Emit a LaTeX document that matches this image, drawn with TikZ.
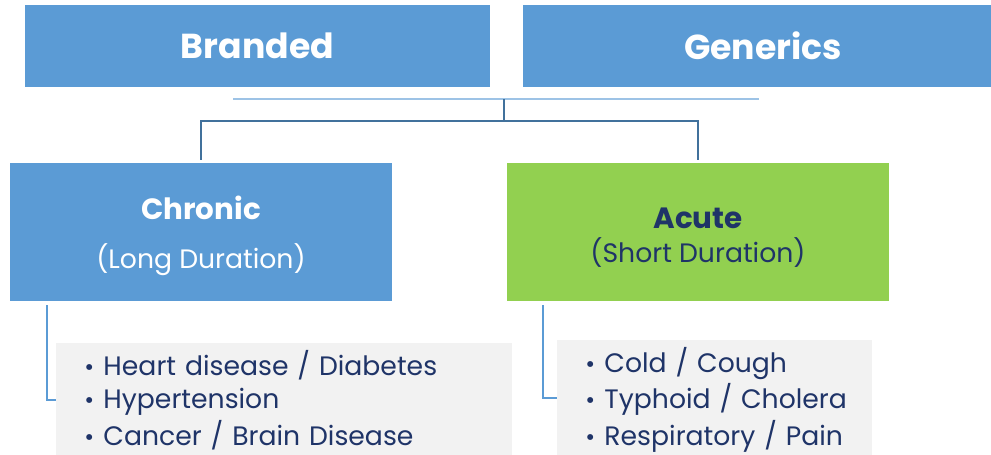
\documentclass[tikz,border=0pt]{standalone}
\usepackage{fontspec}
\setmainfont{Poppins}
\usetikzlibrary{positioning}
\definecolor{boxblue}{HTML}{5B9BD5}
\definecolor{boxgreen}{HTML}{92D050}
\definecolor{listgray}{HTML}{F2F2F2}
\definecolor{navy}{HTML}{1F3468}
\definecolor{barblue}{HTML}{9DC3E6}
\definecolor{forkblue}{HTML}{41719C}
\newcommand{\bul}{\strut\hspace*{8pt}{\fontsize{18}{18}\selectfont\textbullet}\hspace{7pt}}
\tikzset{
  topbox/.style={
    fill=boxblue,
    text=white,
    minimum height=61.5pt,
    font=\fontsize{26}{30}\selectfont\bfseries
  },
  typebox/.style={
    minimum width=286.5pt,
    minimum height=103.5pt,
    align=center,
  },
  listbox/.style={
    fill=listgray,
    text=navy,
    align=left,
    anchor=north west,
    inner xsep=13pt,
    inner ysep=5.2pt,
    font=\fontsize{20}{25}\selectfont
  },
  barline/.style={
    draw=barblue,
    line width=1.5pt,
  },
  forkline/.style={
    draw=forkblue,
    line width=1.5pt,
  },
  sideline/.style={
    draw=boxblue,
    line width=1.5pt,
  },
}
\begin{document}
\begin{tikzpicture}[x=0.75pt, y=-0.75pt]
    \useasboundingbox (0,0) rectangle (991,454);

    \node [topbox, minimum width=348.75pt] (branded) at (257.5,46) {Branded};
    \node [topbox, minimum width=360pt] (generics) at (763,46) {Generics};

    \coordinate (barL) at (233,99);
    \coordinate (barR) at (759,99);
    \coordinate (split) at (504,99);
    \coordinate (fork) at (504,121);
    \draw [barline] (barL) -- (barR);

    \node [typebox, fill=boxblue, text=white] (chronic) at (201,232)
      {{\fontsize{22}{26}\selectfont\bfseries\rule{0pt}{23pt}Chronic}\\[17pt]
       {\fontsize{20}{22}\selectfont (Long Duration)}};
    \node [typebox, fill=boxgreen, text=navy] (acute) at (698,232)
      {{\fontsize{22}{26}\selectfont\bfseries\rule{0pt}{24pt}Acute}\\[6pt]
       {\fontsize{20}{22}\selectfont (Short Duration)}};

    \draw [forkline] (split) -- (fork);
    \draw [forkline, shorten >=2pt] (fork) -| (chronic.north);
    \draw [forkline, shorten >=2pt] (fork) -| (acute.north);

    \node [listbox, text width=316pt] (chroniclist) at (56,343)
      {\bul Heart disease / Diabetes\\
       \bul Hypertension\\
       \bul Cancer / Brain Disease};
    \node [listbox, text width=210.25pt] (acutelist) at (557,340)
      {\bul Cold / Cough\\
       \bul Typhoid / Cholera\\
       \bul Respiratory / Pain};

    \draw [sideline, shorten <=3pt] ([xshift=27.75pt]chronic.south west) |- ([yshift=-42.75pt]chroniclist.north west);
    \draw [sideline, shorten <=3pt] ([xshift=27pt]acute.south west) |- ([yshift=-43.5pt]acutelist.north west);

  \end{tikzpicture}
\end{document}
